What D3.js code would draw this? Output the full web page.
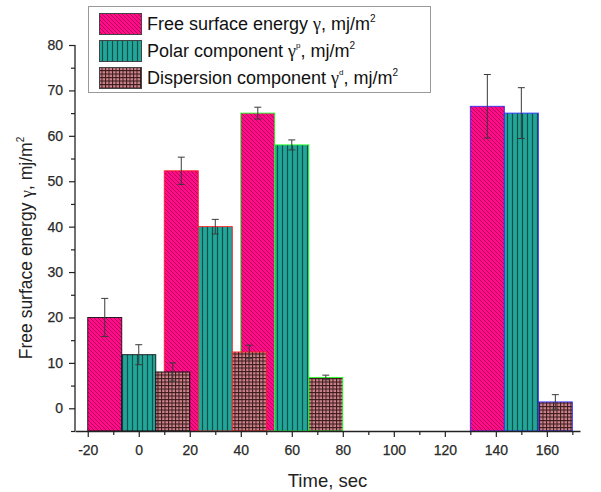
<!DOCTYPE html>
<html><head><meta charset="utf-8">
<script src="https://cdn.jsdelivr.net/npm/d3@7"></script>
<style>
body{margin:0;background:#fff;}
text{font-family:"Liberation Sans",Arial,sans-serif;}
</style></head>
<body><svg id="chart" width="601" height="492"></svg>
<script>
// ---- data ----
const groupTimes = [0, 30, 60, 150];            // centre of each group (sec)
const seriesNames = ["Free surface energy", "Polar component", "Dispersion component"];
const freeEnergy = [20, 52.3, 65, 66.5];
const freeErr    = [4.2, 3.0, 1.3, 7.0];
const polar      = [11.8, 40, 58, 65];
const polarErr   = [2.2, 1.6, 1.1, 5.6];
const dispersion = [8, 12.4, 6.8, 1.4];
const dispErr    = [2.0, 1.5, 0.5, 1.6];
const xTicks = [-20, 0, 20, 40, 60, 80, 100, 120, 140, 160];
const yTicks = [0, 10, 20, 30, 40, 50, 60, 70, 80];

const svg = d3.select("#chart");
const margin = {left: 75, right: 21, top: 45, bottom: 61};
const W = 601, H = 492;
const x = d3.scaleLinear().domain([-25, 173]).range([margin.left, W - margin.right]);
const y = d3.scaleLinear().domain([-5, 80]).range([H - margin.bottom, margin.top]);

// patterns
const defs = svg.append("defs");
const p1 = defs.append("pattern").attr("id","pMag").attr("patternUnits","userSpaceOnUse").attr("width",4).attr("height",4);
p1.append("rect").attr("width",4).attr("height",4).attr("fill","#ff0c8a");
p1.append("path").attr("d","M-1,-1 L5,5 M-1,3 L1,5 M3,-1 L5,1").attr("stroke","#a8004f").attr("stroke-width",0.85);
const p2 = defs.append("pattern").attr("id","pTeal").attr("patternUnits","userSpaceOnUse").attr("width",5).attr("height",5);
p2.append("rect").attr("width",5).attr("height",5).attr("fill","#22a699");
p2.append("line").attr("x1",2.5).attr("x2",2.5).attr("y1",0).attr("y2",5).attr("stroke","#0e4f49").attr("stroke-width",1.2);
const p3 = defs.append("pattern").attr("id","pDisp").attr("patternUnits","userSpaceOnUse").attr("width",3.5).attr("height",3.5);
p3.append("rect").attr("width",3.5).attr("height",3.5).attr("fill","#cf868e");
p3.append("path").attr("d","M0.5,0 V3.5 M0,0.5 H3.5").attr("stroke","#3a1a1c").attr("stroke-width",1.05);

const fills = ["url(#pMag)", "url(#pTeal)", "url(#pDisp)"];
const groupBorders = ["#111111", "#ff2020", "#20ff20", "#3030ff"];
const seriesVals = [freeEnergy, polar, dispersion];
const seriesErrs = [freeErr, polarErr, dispErr];
const bw = 40 / 3;

// bars (series order: magenta, teal, dispersion)
seriesVals.forEach((vals, s) => {
  const off = (s - 1) * bw;
  svg.append("g").selectAll("rect").data(vals).join("rect")
    .attr("x", (d, i) => x(groupTimes[i] + off - bw / 2))
    .attr("width", (d, i) => x(groupTimes[i] + off + bw / 2) - x(groupTimes[i] + off - bw / 2))
    .attr("y", d => y(d))
    .attr("height", d => y(-5) - y(d))
    .attr("fill", fills[s])
    .attr("stroke", (d, i) => groupBorders[i])
    .attr("stroke-width", 0.9);
});
// error bars
seriesVals.forEach((vals, s) => {
  const off = (s - 1) * bw;
  const g = svg.append("g").attr("stroke", "#3a3a3a").attr("stroke-width", 1);
  vals.forEach((v, i) => {
    const cx = x(groupTimes[i] + off);
    const e = seriesErrs[s][i];
    g.append("line").attr("x1", cx).attr("x2", cx).attr("y1", y(v + e)).attr("y2", y(v - e));
    g.append("line").attr("x1", cx - 3.5).attr("x2", cx + 3.5).attr("y1", y(v + e)).attr("y2", y(v + e));
    g.append("line").attr("x1", cx - 3.5).attr("x2", cx + 3.5).attr("y1", y(v - e)).attr("y2", y(v - e));
  });
});

// axes
const axisColor = "#222";
const fmt = d => String(d);
svg.append("g").attr("transform", `translate(0,${y(-5)})`)
  .call(d3.axisBottom(x).tickValues(xTicks).tickSize(6).tickSizeOuter(0).tickPadding(8).tickFormat(fmt));
svg.append("g").attr("transform", `translate(0,${y(-5)})`)
  .call(d3.axisBottom(x).tickValues(d3.range(-10, 171, 20)).tickSize(4).tickFormat("")).select(".domain").remove();
const yAxis = svg.append("g").attr("transform", `translate(${x(-25)},0)`)
  .call(d3.axisLeft(y).tickValues(yTicks).tickSize(6).tickSizeOuter(0).tickPadding(6).tickFormat(fmt));
svg.append("g").attr("transform", `translate(${x(-25)},0)`)
  .call(d3.axisLeft(y).tickValues(d3.range(-5, 80, 10)).tickSize(4).tickFormat("")).select(".domain").remove();
svg.selectAll(".domain").attr("stroke", axisColor).attr("stroke-width", 1.3);
svg.selectAll(".tick line").attr("stroke", axisColor).attr("stroke-width", 1.2);
svg.selectAll(".tick text").attr("font-size", 14).attr("fill", "#2a2a2a")
  .attr("font-family", "Liberation Sans, Arial, sans-serif").attr("stroke", "#2a2a2a").attr("stroke-width", 0.25);
yAxis.select(".domain").attr("d", `M0,${y(80)}V${y(-5)}`);

// axis titles
const yt = svg.append("text").attr("transform", `translate(32,${(y(80)+y(-5))/2 + 10}) rotate(-90)`)
  .attr("text-anchor", "middle").attr("font-size", 17.5).attr("fill", "#222");
yt.append("tspan").text("Free surface energy ");
yt.append("tspan").attr("font-family", "Liberation Serif, Times New Roman, serif").text("γ");
yt.append("tspan").text(", mj/m");
yt.append("tspan").attr("font-size", 10).attr("dy", -8).text("2");
svg.append("text").attr("x", (x(-25) + x(173)) / 2).attr("y", 487).attr("text-anchor", "middle")
  .attr("font-size", 18.5).attr("fill", "#222").text("Time, sec");

// legend
const leg = svg.append("g");
leg.append("rect").attr("x", 88.5).attr("y", 6.5).attr("width", 342).attr("height", 86)
  .attr("fill", "#fff").attr("stroke", "#999").attr("stroke-width", 1);
const supers = ["", "p", "d"];
seriesNames.forEach((nm, s) => {
  const ry = 13.5 + s * 27;
  leg.append("rect").attr("x", 99.5).attr("y", ry).attr("width", 42).attr("height", 21)
    .attr("fill", fills[s]).attr("stroke", "#444").attr("stroke-width", 1);
  const t = leg.append("text").attr("x", 147).attr("y", ry + 16.5).attr("font-size", 18).attr("fill", "#111");
  t.append("tspan").text(nm + " ");
  t.append("tspan").attr("font-family", "Liberation Serif, Times New Roman, serif").text("γ");
  if (supers[s]) t.append("tspan").attr("font-size", 8).attr("dy", -9).text(supers[s]);
  t.append("tspan").attr("dy", supers[s] ? 9 : 0).text(", mj/m");
  t.append("tspan").attr("font-size", 10).attr("dy", -8).text("2");
});
</script></body></html>
